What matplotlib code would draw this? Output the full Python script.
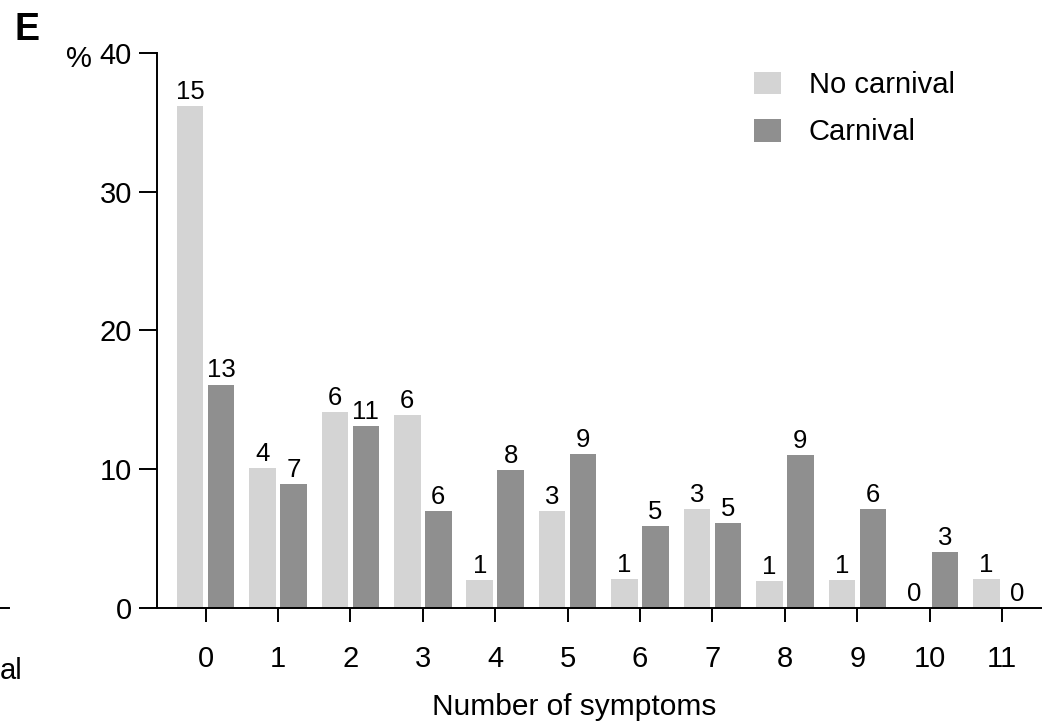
import numpy as np
import matplotlib.pyplot as plt

plt.rcParams['font.family'] = ['Liberation Sans', 'DejaVu Sans']

symptoms = [str(i) for i in range(12)]
# percentage of respondents (bar heights) and raw counts (labels)
pct_no_carnival = [36.2, 10.1, 14.1, 13.9, 2.0, 7.0, 2.1, 7.1, 1.95, 2.0, 0.0, 2.1]
pct_carnival = [16.1, 8.95, 13.1, 7.0, 9.9, 11.1, 5.9, 6.1, 11.0, 7.1, 4.0, 0.0]
n_no_carnival = [15, 4, 6, 6, 1, 3, 1, 3, 1, 1, 0, 1]
n_carnival = [13, 7, 11, 6, 8, 9, 5, 5, 9, 6, 3, 0]

LIGHT = '#d4d4d4'
DARK = '#8f8f8f'
W = 0.366
OFF = 0.214
LW = 1.4

fig = plt.figure(figsize=(10.42, 7.22), dpi=100)
ax = fig.add_axes([0.1507, 0.1583, 0.8493, 0.7679])

x = np.arange(len(symptoms))
b1 = ax.bar(x - OFF, pct_no_carnival, W, color=LIGHT, label='No carnival')
b2 = ax.bar(x + OFF, pct_carnival, W, color=DARK, label='Carnival')

for bars, counts in [(b1, n_no_carnival), (b2, n_carnival)]:
    for b, n in zip(bars, counts):
        ax.annotate(str(n), (b.get_x() + b.get_width() / 2, b.get_height()),
                    xytext=(0, 1.5), textcoords='offset points',
                    ha='center', va='bottom', fontsize=18.5)

ax.set_xlim(-0.67, 11.55)
ax.set_ylim(0, 40)
ax.set_yticks([0, 10, 20, 30, 40])
ax.set_xticks(x)
ax.set_xticklabels(symptoms)

for s in ['top', 'right']:
    ax.spines[s].set_visible(False)
for s in ['left', 'bottom']:
    ax.spines[s].set_linewidth(LW)

ax.tick_params(axis='y', length=13, width=LW, pad=5, labelsize=21)
ax.tick_params(axis='x', length=10, width=LW, pad=16.5, labelsize=21)

ax.set_xlabel('Number of symptoms', fontsize=21.5)
ax.xaxis.set_label_coords(0.471, -0.1935)
ax.xaxis.label.set_va('baseline')

ax.text(-0.0734, 0.99, '%', transform=ax.transAxes, fontsize=21,
        ha='right', va='center')

ax.legend(loc='upper left', bbox_to_anchor=(0.6746, 0.968), frameon=False,
          fontsize=21, handlelength=0.92, handleheight=0.82,
          handletextpad=0.95, labelspacing=0.66, borderpad=0,
          borderaxespad=0)

fig.text(0.014, 0.9446, 'E', fontsize=27, fontweight='bold', va='baseline')

# fragments of the neighbouring panel
fig.text(0.0, 0.07, 'al', fontsize=21, ha='left', va='center')
fig.add_artist(plt.Line2D([0, 0.009], [0.1583, 0.1583], color='black',
                          lw=LW, transform=fig.transFigure))

fig.savefig('out.png', dpi=100)
